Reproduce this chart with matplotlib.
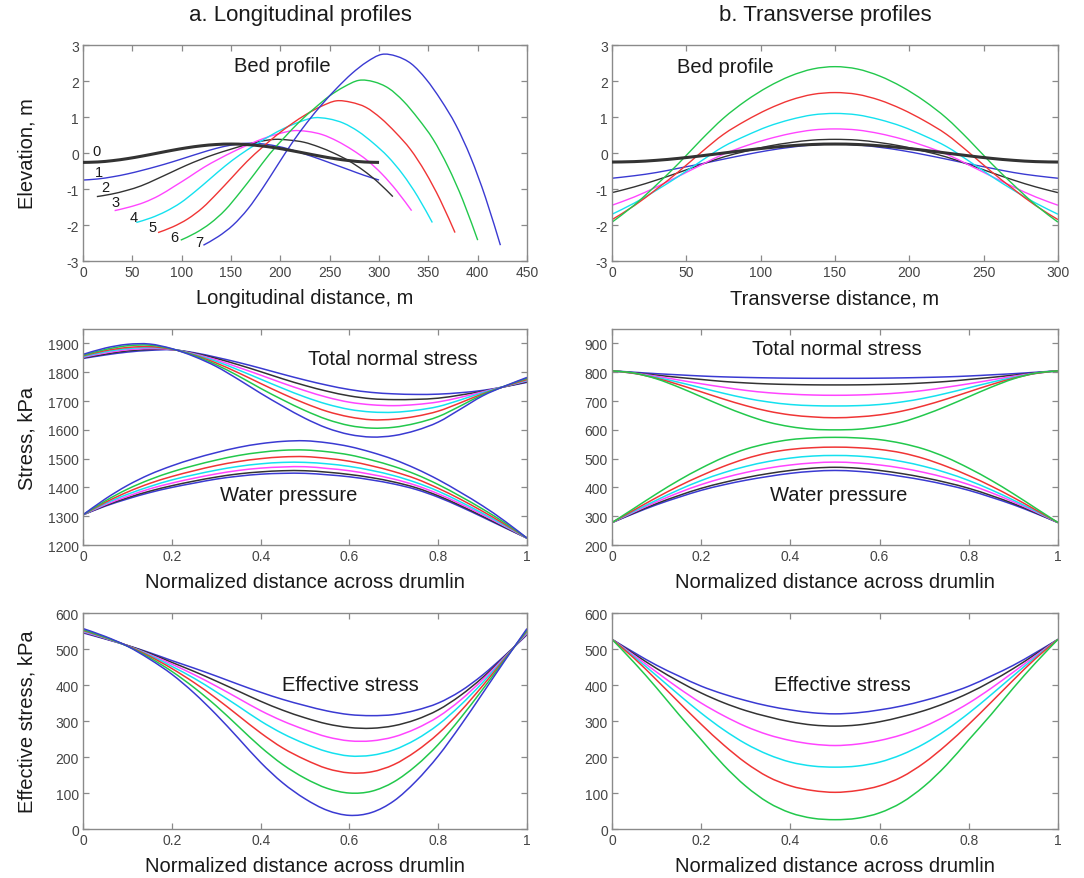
"""Drumlin bed profiles and stress distributions (longitudinal vs transverse)."""

import matplotlib

matplotlib.use("Agg")
import matplotlib.pyplot as plt  # noqa: E402
import numpy as np
from matplotlib import font_manager
from matplotlib.patches import PathPatch
from matplotlib.path import Path

plt.rcParams["font.family"] = ["Liberation Sans", "DejaVu Sans"]
plt.rcParams["axes.unicode_minus"] = False

# ---- data ---------------------------------------------------------------
norm_x = np.linspace(0.0, 1.0, 21)

# longitudinal bed profiles, curves 0..7 (start / end of each profile, m)
long_x0 = [0, 0, 14, 32, 54, 76, 99, 122]
long_x1 = [300, 300, 314, 333, 354, 377, 400, 423]
bed_long = [
    [-0.26, -0.248, -0.211, -0.155, -0.084, -0.005, 0.074, 0.145, 0.201, 0.237, 0.25,
     0.237, 0.201, 0.145, 0.074, -0.005, -0.084, -0.155, -0.211, -0.248, -0.26],
    [-0.75, -0.72, -0.66, -0.58, -0.48, -0.37, -0.25, -0.12, 0.01, 0.13, 0.22,
     0.27, 0.26, 0.20, 0.10, -0.03, -0.17, -0.32, -0.47, -0.62, -0.75],
    [-1.21, -1.14, -1.04, -0.91, -0.73, -0.54, -0.35, -0.18, -0.03, 0.10, 0.22,
     0.32, 0.38, 0.36, 0.30, 0.17, 0.00, -0.21, -0.48, -0.81, -1.21],
    [-1.60, -1.50, -1.37, -1.18, -0.93, -0.67, -0.40, -0.17, 0.04, 0.23, 0.40,
     0.53, 0.62, 0.60, 0.51, 0.33, 0.09, -0.20, -0.58, -1.05, -1.60],
    [-1.93, -1.80, -1.62, -1.38, -1.06, -0.71, -0.36, -0.05, 0.22, 0.47, 0.69,
     0.86, 0.98, 0.95, 0.83, 0.60, 0.28, -0.10, -0.59, -1.20, -1.93],
    [-2.21, -2.05, -1.83, -1.52, -1.11, -0.67, -0.23, 0.15, 0.50, 0.81, 1.08,
     1.30, 1.45, 1.41, 1.27, 0.97, 0.57, 0.10, -0.53, -1.30, -2.21],
    [-2.42, -2.22, -1.95, -1.58, -1.09, -0.56, -0.02, 0.44, 0.87, 1.24, 1.58,
     1.84, 2.02, 1.98, 1.80, 1.44, 0.95, 0.38, -0.38, -1.31, -2.42],
    [-2.56, -2.32, -2.00, -1.55, -0.97, -0.33, 0.30, 0.86, 1.36, 1.81, 2.21,
     2.53, 2.74, 2.69, 2.48, 2.05, 1.47, 0.78, -0.12, -1.24, -2.56],
]
long_labels = ["0", "1", "2", "3", "4", "5", "6", "7"]
long_label_xy = [(14, 0.05), (16, -0.52), (23, -0.94), (33, -1.37),
                 (51, -1.79), (70, -2.06), (93, -2.34), (118, -2.48)]

# transverse bed profiles (0..300 m)
trans_x = np.linspace(0, 300, 21)
bed_trans = [
    [-0.25, -0.238, -0.202, -0.147, -0.077, 0.0, 0.077, 0.147, 0.202, 0.238, 0.25,
     0.238, 0.202, 0.147, 0.077, 0.0, -0.077, -0.147, -0.202, -0.238, -0.25],
    [-0.70, -0.63, -0.54, -0.42, -0.30, -0.17, -0.045, 0.07, 0.16, 0.226, 0.25,
     0.226, 0.16, 0.07, -0.045, -0.17, -0.30, -0.42, -0.54, -0.63, -0.70],
    [-1.10, -0.94, -0.75, -0.54, -0.32, -0.11, 0.05, 0.19, 0.29, 0.36, 0.38,
     0.36, 0.29, 0.19, 0.05, -0.11, -0.32, -0.54, -0.75, -0.94, -1.10],
    [-1.45, -1.22, -0.94, -0.64, -0.33, -0.03, 0.20, 0.39, 0.54, 0.64, 0.67,
     0.64, 0.54, 0.39, 0.20, -0.03, -0.33, -0.64, -0.94, -1.22, -1.45],
    [-1.70, -1.39, -1.03, -0.64, -0.22, 0.18, 0.48, 0.74, 0.93, 1.06, 1.10,
     1.06, 0.93, 0.74, 0.48, 0.18, -0.22, -0.64, -1.03, -1.39, -1.70],
    [-1.85, -1.46, -1.00, -0.51, 0.02, 0.52, 0.90, 1.22, 1.47, 1.63, 1.68,
     1.63, 1.47, 1.22, 0.90, 0.52, 0.02, -0.51, -1.00, -1.46, -1.85],
    [-1.92, -1.445, -0.88, -0.28, 0.37, 0.97, 1.45, 1.84, 2.14, 2.335, 2.40,
     2.335, 2.14, 1.84, 1.45, 0.97, 0.37, -0.28, -0.88, -1.445, -1.92],
]

# longitudinal stresses, kPa (curves 1..7)
total_long = [
    [1848, 1860, 1870, 1876, 1878, 1868, 1852, 1834, 1814, 1793, 1773, 1755, 1740, 1730, 1725, 1723, 1724, 1729, 1737, 1750, 1765],
    [1850, 1863, 1874, 1879, 1879, 1866, 1848, 1826, 1802, 1777, 1754, 1734, 1718, 1708, 1705, 1706, 1710, 1721, 1734, 1750, 1767],
    [1852, 1867, 1878, 1882, 1879, 1864, 1843, 1817, 1790, 1762, 1736, 1713, 1696, 1687, 1684, 1688, 1697, 1713, 1732, 1751, 1770],
    [1854, 1871, 1882, 1886, 1880, 1862, 1838, 1808, 1776, 1744, 1714, 1689, 1671, 1662, 1661, 1668, 1681, 1704, 1729, 1751, 1772],
    [1857, 1875, 1886, 1889, 1880, 1860, 1832, 1798, 1761, 1725, 1692, 1664, 1645, 1635, 1637, 1647, 1665, 1694, 1725, 1751, 1775],
    [1859, 1879, 1892, 1894, 1881, 1858, 1826, 1787, 1744, 1704, 1667, 1636, 1615, 1606, 1609, 1623, 1646, 1683, 1722, 1752, 1779],
    [1862, 1884, 1897, 1898, 1882, 1855, 1820, 1775, 1727, 1682, 1640, 1606, 1584, 1575, 1580, 1598, 1627, 1672, 1718, 1752, 1782],
]
water_long = [
    [1305, 1335, 1360, 1382, 1400, 1415, 1429, 1439, 1446, 1449, 1449, 1444, 1437, 1426, 1412, 1393, 1366, 1333, 1297, 1260, 1224],
    [1305, 1337, 1364, 1387, 1406, 1422, 1436, 1447, 1454, 1458, 1458, 1453, 1445, 1434, 1419, 1399, 1371, 1337, 1300, 1262, 1224],
    [1305, 1340, 1369, 1395, 1415, 1432, 1447, 1459, 1467, 1471, 1472, 1466, 1458, 1445, 1429, 1407, 1378, 1343, 1305, 1265, 1224],
    [1305, 1344, 1376, 1403, 1426, 1444, 1460, 1473, 1482, 1487, 1487, 1482, 1473, 1459, 1441, 1417, 1387, 1350, 1310, 1268, 1224],
    [1305, 1348, 1384, 1414, 1438, 1458, 1476, 1490, 1500, 1506, 1507, 1501, 1491, 1475, 1455, 1430, 1397, 1359, 1317, 1272, 1224],
    [1305, 1353, 1394, 1427, 1454, 1476, 1495, 1511, 1522, 1529, 1530, 1524, 1513, 1495, 1473, 1445, 1410, 1369, 1325, 1277, 1224],
    [1305, 1360, 1407, 1445, 1475, 1500, 1521, 1539, 1552, 1560, 1562, 1555, 1542, 1522, 1497, 1465, 1427, 1383, 1336, 1283, 1224],
]
eff_long = [
    [545, 528, 510, 490, 468, 447, 425, 402, 380, 360, 343, 328, 318, 315, 318, 330, 350, 383, 428, 482, 540],
    [547, 529, 510, 488, 463, 438, 411, 383, 355, 330, 309, 292, 282, 280, 287, 304, 331, 371, 421, 480, 542],
    [548, 530, 509, 485, 458, 429, 397, 363, 329, 300, 276, 256, 245, 245, 256, 279, 312, 358, 415, 478, 544],
    [550, 531, 509, 483, 452, 419, 381, 341, 300, 265, 237, 215, 203, 205, 220, 249, 290, 344, 407, 476, 547],
    [552, 532, 509, 480, 446, 407, 363, 315, 267, 225, 193, 168, 156, 159, 179, 216, 265, 327, 398, 474, 550],
    [554, 533, 508, 476, 438, 393, 342, 285, 228, 179, 141, 113, 100, 105, 131, 176, 235, 308, 388, 471, 553],
    [557, 535, 508, 472, 430, 378, 318, 252, 185, 128, 84, 52, 38, 46, 78, 133, 203, 287, 377, 468, 557],
]

# transverse stresses, kPa (curves 1..6)
total_trans = [
    [805, 800, 795, 791, 787, 784, 782, 780.5, 779.5, 779, 779, 779, 779.5, 780.5, 782, 784, 787, 791, 795, 800, 805],
    [805, 798, 790, 782, 775, 768, 763, 759.5, 757.5, 756.3, 756, 756.3, 757.5, 759.5, 763, 768, 775, 782, 790, 798, 805],
    [805, 797, 786, 773, 760, 748, 737, 729, 724, 721, 720, 721, 724, 729, 737, 748, 760, 773, 786, 797, 805],
    [805, 796, 782, 765, 746, 727, 710, 697, 688, 684, 683, 684, 688, 697, 710, 727, 746, 765, 782, 796, 805],
    [805, 796, 779, 757, 732, 707, 684, 665, 652, 645, 642, 645, 652, 665, 684, 707, 732, 757, 779, 796, 805],
    [805, 797, 777, 748, 715, 682, 652, 627, 611, 602, 600, 602, 611, 627, 652, 682, 715, 748, 777, 797, 805],
]
water_trans = [
    [278, 310, 340, 366, 390, 409, 425, 438, 449, 456, 459, 456, 449, 438, 425, 409, 390, 366, 340, 310, 278],
    [278, 312, 344, 372, 397, 417, 434, 448, 459, 467, 470, 467, 459, 448, 434, 417, 397, 372, 344, 312, 278],
    [278, 315, 350, 382, 410, 433, 452, 467, 478, 485, 488, 485, 478, 467, 452, 433, 410, 382, 350, 315, 278],
    [278, 318, 356, 392, 424, 451, 473, 490, 502, 509, 511, 509, 502, 490, 473, 451, 424, 392, 356, 318, 278],
    [278, 322, 365, 405, 441, 473, 500, 520, 532, 538, 540, 538, 532, 520, 500, 473, 441, 405, 365, 322, 278],
    [278, 328, 378, 425, 467, 504, 533, 553, 566, 572, 574, 572, 566, 553, 533, 504, 467, 425, 378, 328, 278],
]
eff_trans = [
    [527, 490, 455, 425, 397, 375, 357, 342, 331, 323, 320, 323, 331, 342, 357, 375, 397, 425, 455, 490, 527],
    [527, 486, 446, 410, 378, 351, 329, 312, 298, 289, 286, 289, 298, 312, 329, 351, 378, 410, 446, 486, 527],
    [527, 482, 436, 391, 350, 315, 285, 262, 246, 236, 232, 236, 246, 262, 285, 315, 350, 391, 436, 482, 527],
    [527, 478, 426, 373, 322, 276, 237, 207, 186, 175, 172, 175, 186, 207, 237, 276, 322, 373, 426, 478, 527],
    [527, 474, 414, 352, 291, 234, 184, 145, 120, 107, 102, 107, 120, 145, 184, 234, 291, 352, 414, 474, 527],
    [527, 462, 392, 318, 248, 178, 119, 74, 45, 30, 26, 30, 45, 74, 119, 178, 248, 318, 392, 462, 527],
]

norm_ticks = [0, 0.2, 0.4, 0.6, 0.8, 1]
norm_ticklabels = ["0", "0.2", "0.4", "0.6", "0.8", "1"]

# ---- styling -----------------------------------------------------------
BLUE, BLACK, MAG, CYAN, RED, GREEN = "#3a3ad2", "#333333", "#ff45ff", "#14e1ef", "#f03535", "#22c84c"
long_colors = [BLACK, BLUE, BLACK, MAG, CYAN, RED, GREEN, BLUE]
long_widths = [2.2, 1.0, 1.0, 1.0, 1.0, 1.0, 1.0, 1.0]
stress_long_colors = [BLUE, BLACK, MAG, CYAN, RED, GREEN, BLUE]
stress_trans_colors = [BLUE, BLACK, MAG, CYAN, RED, GREEN]
LW = 1.1
FRAME = "#8a8a8a"
TEXT = "#1a1a1a"
LABEL_FS = 14.5
TICK_FS = 10

fig = plt.figure(figsize=(10.84, 8.79), dpi=100)
col_left = [0.0766, 0.5646]
col_width = [0.4096, 0.4114]
row_bottom = [0.7019, 0.3788, 0.0557]
row_height = 0.2457
axes = [[fig.add_axes([col_left[c], row_bottom[r], col_width[c], row_height]) for c in range(2)]
        for r in range(3)]


def smooth_line(ax, xs, ys, color, lw, zorder=2):
    """Draw the read points as one smooth (Catmull-Rom style) curve."""
    p = np.column_stack([xs, ys]).astype(float)
    ext = np.vstack([p[0], p, p[-1]])
    verts = [p[0]]
    codes = [Path.MOVETO]
    for i in range(len(p) - 1):
        p0, p1, p2, p3 = ext[i], ext[i + 1], ext[i + 2], ext[i + 3]
        verts += [p1 + (p2 - p0) / 6.0, p2 - (p3 - p1) / 6.0, p2]
        codes += [Path.CURVE4] * 3
    ax.add_patch(PathPatch(Path(verts, codes), fill=False, edgecolor=color,
                           lw=lw, zorder=zorder, capstyle="butt"))


def style(ax):
    for sp in ax.spines.values():
        sp.set_color(FRAME)
        sp.set_linewidth(1.0)
    ax.tick_params(direction="in", top=True, right=True, length=4, width=0.9,
                   color=FRAME, labelcolor="#444444", labelsize=TICK_FS, pad=3)


def note(ax, x, y, s):
    ax.text(x, y, s, transform=ax.transAxes, ha="center", va="center",
            fontsize=LABEL_FS, color=TEXT)


# row 1: bed profiles
ax = axes[0][0]
for k, ys in enumerate(bed_long):
    xs = np.linspace(long_x0[k], long_x1[k], len(ys))
    smooth_line(ax, xs, ys, long_colors[k], long_widths[k], zorder=3 if k == 0 else 2)
for lab, (lx, ly) in zip(long_labels, long_label_xy):
    ax.text(lx, ly, lab, ha="center", va="center", fontsize=10.5, color=TEXT)
ax.set_xlim(0, 450)
ax.set_ylim(-3, 3)
ax.set_xticks(np.arange(0, 451, 50))
ax.set_yticks(np.arange(-3, 4, 1))
note(ax, 0.448, 0.905, "Bed profile")
ax.set_xlabel("Longitudinal distance, m", fontsize=LABEL_FS, color=TEXT)
ax.set_ylabel("Elevation, m", fontsize=LABEL_FS, color=TEXT)

ax = axes[0][1]
for k, ys in enumerate(bed_trans):
    smooth_line(ax, trans_x, ys, long_colors[k], long_widths[k], zorder=3 if k == 0 else 2)
ax.set_xlim(0, 300)
ax.set_ylim(-3, 3)
ax.set_xticks(np.arange(0, 301, 50))
ax.set_yticks(np.arange(-3, 4, 1))
note(ax, 0.255, 0.9, "Bed profile")
ax.set_xlabel("Transverse distance, m", fontsize=LABEL_FS, color=TEXT)

# row 2: total normal stress and water pressure
ax = axes[1][0]
for k in range(len(total_long)):
    smooth_line(ax, norm_x, total_long[k], stress_long_colors[k], LW)
    smooth_line(ax, norm_x, water_long[k], stress_long_colors[k], LW)
ax.set_ylim(1200, 1950)
ax.set_yticks(np.arange(1200, 1901, 100))
note(ax, 0.698, 0.865, "Total normal stress")
note(ax, 0.464, 0.234, "Water pressure")
ax.set_ylabel("Stress, kPa", fontsize=LABEL_FS, color=TEXT)

ax = axes[1][1]
for k in range(len(total_trans)):
    smooth_line(ax, norm_x, total_trans[k], stress_trans_colors[k], LW)
    smooth_line(ax, norm_x, water_trans[k], stress_trans_colors[k], LW)
ax.set_ylim(200, 950)
ax.set_yticks(np.arange(200, 901, 100))
note(ax, 0.503, 0.908, "Total normal stress")
note(ax, 0.509, 0.234, "Water pressure")

# row 3: effective stress
ax = axes[2][0]
for k, ys in enumerate(eff_long):
    smooth_line(ax, norm_x, ys, stress_long_colors[k], LW)
note(ax, 0.603, 0.67, "Effective stress")
ax.set_ylabel("Effective stress, kPa", fontsize=LABEL_FS, color=TEXT)

ax = axes[2][1]
for k, ys in enumerate(eff_trans):
    smooth_line(ax, norm_x, ys, stress_trans_colors[k], LW)
note(ax, 0.517, 0.667, "Effective stress")

for ax in (axes[2][0], axes[2][1]):
    ax.set_ylim(0, 600)
    ax.set_yticks(np.arange(0, 601, 100))

for r in (1, 2):
    for c in (0, 1):
        ax = axes[r][c]
        ax.set_xlim(0, 1)
        ax.set_xticks(norm_ticks)
        ax.set_xticklabels(norm_ticklabels)
        ax.set_xlabel("Normalized distance across drumlin", fontsize=LABEL_FS, color=TEXT)

for row in axes:
    for c, ax in enumerate(row):
        style(ax)
        ax.xaxis.set_label_coords(0.5, -0.125)
    row[0].yaxis.set_label_coords(-0.105, 0.5)

# column titles use a narrow face when one is installed
installed = {f.name for f in font_manager.fontManager.ttflist}
if "Liberation Sans Narrow" in installed:
    title_font, title_fs = ["Liberation Sans Narrow", "DejaVu Sans"], 18
else:
    title_font, title_fs = ["Liberation Sans", "DejaVu Sans"], 16
fig.text(0.2768, 0.982, "a. Longitudinal profiles", ha="center", va="center",
         fontsize=title_fs, family=title_font, color=TEXT)
fig.text(0.7611, 0.982, "b. Transverse profiles", ha="center", va="center",
         fontsize=title_fs, family=title_font, color=TEXT)

fig.savefig("out.png", dpi=100)
plt.close(fig)
